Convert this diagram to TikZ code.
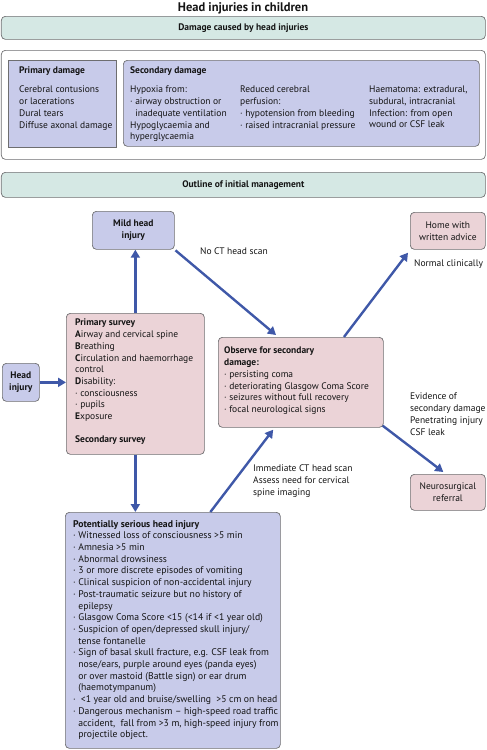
\documentclass[tikz,border=0pt]{standalone}
\usepackage{fontspec}
\setmainfont{PT Sans}
\usetikzlibrary{arrows.meta,calc}
\definecolor{lav}{HTML}{C8CBEA}
\definecolor{pnk}{HTML}{EBD3D7}
\definecolor{tea}{HTML}{D5E8E4}
\definecolor{bord}{HTML}{6E6E70}
\definecolor{arr}{HTML}{3F58A8}
\newcommand\fs{\fontsize{9.5}{11.7}\selectfont}
\tikzset{
  box/.style={draw=bord, line width=0.7pt, rounded corners=4pt, anchor=north west, inner sep=0pt},
  lavbox/.style={box, fill=lav},
  pnkbox/.style={box, fill=pnk},
  teabox/.style={box, fill=tea},
  txt/.style={anchor=north west, inner sep=0pt, align=left, font=\fs, text=black!92},
  ctxt/.style={inner sep=0pt, align=center, font=\fs, text=black!92},
  flow/.style={draw=arr, line width=2.4pt, -{Triangle[length=8pt,width=9pt]}},
}
\begin{document}
\begin{tikzpicture}[x=1pt,y=-1pt]
\useasboundingbox (0,0) rectangle (487,750);
% title
\node[ctxt, font=\fontsize{12.5}{15}\selectfont\bfseries] (title) at (243,8.5) {Head injuries in children};
% damage section
\node[teabox, minimum width=484pt, minimum height=23pt] (dmg) at (1,16) {};
\node[ctxt, font=\fs\bfseries] (dmgt) at (dmg.center) {Damage caused by head injuries};
\node[box, fill=white, minimum width=484pt, minimum height=109pt] (outer) at (1,50) {};
\node[lavbox, rounded corners=0pt, minimum width=108pt, minimum height=87pt] (prd) at (8,60) {};
\node[lavbox, minimum width=356pt, minimum height=86pt] (scd) at (123,60) {};
\node[txt, font=\fs\bfseries] (prdt) at (19,67) {Primary damage};
\node[txt] (prdl) at (19,86) {Cerebral contusions\\or lacerations\\Dural tears\\Diffuse axonal damage};
\node[txt, font=\fs\bfseries] (scdt) at (130,67) {Secondary damage};
\node[txt] (scd1) at (130,86) {Hypoxia from:\\· airway obstruction or\\\phantom{·} inadequate ventilation\\Hypoglycaemia and\\hyperglycaemia};
\node[txt] (scd2) at (240,86) {Reduced cerebral\\perfusion:\\· hypotension from bleeding\\· raised intracranial pressure};
\node[txt] (scd3) at (369,86) {Haematoma: extradural,\\subdural, intracranial\\Infection: from open\\wound or CSF leak};
% management
\node[teabox, minimum width=484pt, minimum height=25pt] (outl) at (1,172) {};
\node[ctxt, font=\fs\bfseries] (outlt) at (outl.center) {Outline of initial management};
\node[lavbox, minimum width=82pt, minimum height=38pt] (mild) at (92,211) {};
\node[ctxt, font=\fs\bfseries] (mildt) at (mild.center) {Mild head\\injury};
\node[pnkbox, minimum width=75pt, minimum height=37pt] (home) at (410,212) {};
\node[ctxt] (homet) at (home.center) {Home with\\written advice};
\node[lavbox, minimum width=37pt, minimum height=38pt] (head) at (2,363) {};
\node[ctxt, font=\fs\bfseries] (headt) at (head.center) {Head\\injury};
\node[pnkbox, minimum width=138pt, minimum height=141pt] (prim) at (66,313) {};
\node[txt] (primt) at (75,319) {\textbf{Primary survey}\\\textbf{A}irway and cervical spine\\\textbf{B}reathing\\\textbf{C}irculation and haemorrhage\\control\\\textbf{D}isability:\\· consciousness\\· pupils\\\textbf{E}xposure\\[11.7pt]\textbf{Secondary survey}};
\node[pnkbox, minimum width=165pt, minimum height=90pt] (obs) at (218,337) {};
\node[txt] (obst) at (224,347) {\textbf{Observe for secondary}\\\textbf{damage:}\\· persisting coma\\· deteriorating Glasgow Coma Score\\· seizures without full recovery\\· focal neurological signs};
\node[pnkbox, minimum width=75pt, minimum height=36pt] (neuro) at (410,474) {};
\node[ctxt] (neurot) at (neuro.center) {Neurosurgical\\referral};
\node[lavbox, minimum width=215pt, minimum height=236pt] (pot) at (65,512) {};
\node[txt, font=\fontsize{9.7}{11.7}\selectfont] (pott) at (73,520) {\textbf{Potentially serious head injury}\\
· Witnessed loss of consciousness >5 min\\
· Amnesia >5 min\\
· Abnormal drowsiness\\
· 3 or more discrete episodes of vomiting\\
· Clinical suspicion of non-accidental injury\\
· Post-traumatic seizure but no history of\\
\phantom{·} epilepsy\\
· Glasgow Coma Score <15 (<14 if <1 year old)\\
· Suspicion of open/depressed skull injury/\\
\phantom{·} tense fontanelle\\
· Sign of basal skull fracture, e.g. CSF leak from\\
\phantom{·} nose/ears, purple around eyes (panda eyes)\\
\phantom{·} or over mastoid (Battle sign) or ear drum\\
\phantom{·} (haemotympanum)\\
· \ <1 year old and bruise/swelling \ >5 cm on head\\
· Dangerous mechanism – high-speed road traffic\\
\phantom{·} accident, \ fall from >3 m, high-speed injury from\\
\phantom{·} projectile object.};
% labels
\node[txt] (lnoct) at (200,248) {No CT head scan};
\node[txt] (lnorm) at (414,260) {Normal clinically};
\node[txt] (levid) at (410,393) {Evidence of\\secondary damage\\Penetrating injury\\CSF leak};
\node[txt] (limm) at (253,465) {Immediate CT head scan\\Assess need for cervical\\spine imaging};
% arrows
\draw[flow] (head.east) -- (prim.west |- head.east);
\draw[flow] (prim.north) -- (prim.north |- mild.south);
\draw[flow] (prim.south) -- (prim.south |- pot.north);
\draw[flow, shorten <=1pt] (mild.south east) -- ($(obs.north west)!0.35!(obs.north east)+(0,-2)$);
\draw[flow] ($(obs.north west)!0.76!(obs.north east)$) -- ($(home.south west)+(-2,3)$);
\draw[flow] ($(pot.north west)!0.674!(pot.north east)$) -- ($(obs.south west)!0.333!(obs.south east)+(0,2)$);
\draw[flow] ($(obs.south east)+(-1,-2)$) -- ($(neuro.north west)!0.44!(neuro.north east)+(0,-2)$);
\end{tikzpicture}
\end{document}
